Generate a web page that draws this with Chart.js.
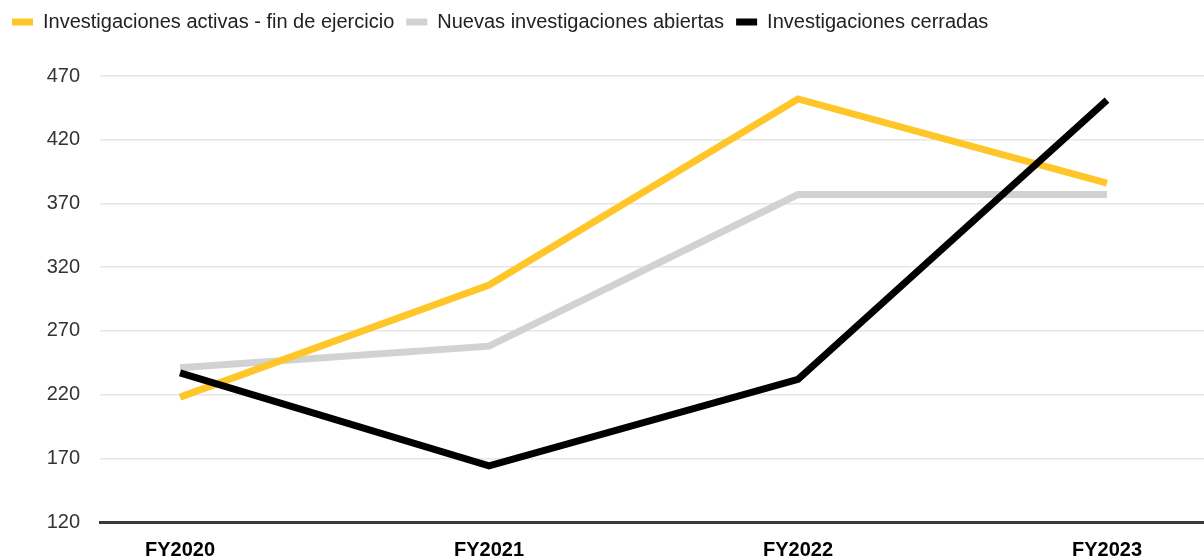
<!DOCTYPE html>
<html>
<head>
<meta charset="utf-8">
<script src="https://cdn.jsdelivr.net/npm/chart.js@4"></script>
<style>
html,body{margin:0;padding:0;background:#fff;}
#wrap{width:1204px;height:559px;position:relative;}
</style>
</head>
<body>
<div id="wrap"><canvas id="c" width="1204" height="559"></canvas></div>
<script>
const categories = ['FY2020', 'FY2021', 'FY2022', 'FY2023'];
const activas = [218, 306, 452, 386];
const nuevas = [241, 258, 377, 377];
const cerradas = [237, 164, 232, 451];
const yTicks = [120, 170, 220, 270, 320, 370, 420, 470];
const seriesNames = ['Investigaciones activas - fin de ejercicio', 'Nuevas investigaciones abiertas', 'Investigaciones cerradas'];

const FONT = 'Liberation Sans';
const toPts = arr => arr.map((v, i) => ({x: i, y: v}));

const legendMargin = {
  id: 'legendMargin',
  beforeInit(chart) {
    const orig = chart.legend.fit;
    chart.legend.fit = function () { orig.call(this); this.height = 76; };
  }
};

new Chart(document.getElementById('c'), {
  type: 'line',
  data: {
    datasets: [
      {label: seriesNames[0], data: toPts(activas), borderColor: '#FFC629', backgroundColor: '#FFC629', order: 1},
      {label: seriesNames[1], data: toPts(nuevas), borderColor: '#D2D2D2', backgroundColor: '#D2D2D2', order: 2},
      {label: seriesNames[2], data: toPts(cerradas), borderColor: '#000000', backgroundColor: '#000000', order: 0}
    ]
  },
  options: {
    responsive: false,
    animation: false,
    elements: {
      line: {borderWidth: 7, tension: 0, borderCapStyle: 'butt', borderJoinStyle: 'miter'},
      point: {radius: 0, hoverRadius: 0}
    },
    layout: {padding: {left: 0, right: 0, top: 0, bottom: 0}},
    plugins: {
      tooltip: {enabled: false},
      legend: {
        position: 'top',
        align: 'start',
        labels: {
          boxWidth: 21,
          boxHeight: 7,
          padding: 12,
          color: '#222',
          font: {family: FONT, size: 20},
          sort: (a, b) => a.datasetIndex - b.datasetIndex,
          generateLabels: chart => Chart.defaults.plugins.legend.labels.generateLabels(chart)
            .map(l => Object.assign(l, {lineWidth: 0, strokeStyle: l.fillStyle}))
        }
      }
    },
    scales: {
      x: {
        type: 'linear',
        min: -0.259,
        max: 3.314,
        afterBuildTicks: axis => { axis.ticks = categories.map((_, i) => ({value: i})); },
        afterFit: s => { s.height = 37; },
        grid: {display: false, drawTicks: false},
        border: {display: true, color: '#3a3a3a', width: 3},
        ticks: {
          autoSkip: false,
          maxRotation: 0,
          padding: 16,
          color: '#000',
          font: {family: FONT, size: 20, weight: 'bold'},
          callback: v => categories[v]
        }
      },
      y: {
        min: 120,
        max: 470,
        afterBuildTicks: axis => { axis.ticks = yTicks.map(v => ({value: v})); },
        afterFit: s => { s.width = 100; },
        grid: {color: '#e6e6e6', lineWidth: 1.5, drawTicks: false},
        border: {display: false},
        ticks: {
          padding: 20,
          color: '#333',
          font: {family: FONT, size: 20}
        }
      }
    }
  },
  plugins: [legendMargin]
});
</script>
</body>
</html>
